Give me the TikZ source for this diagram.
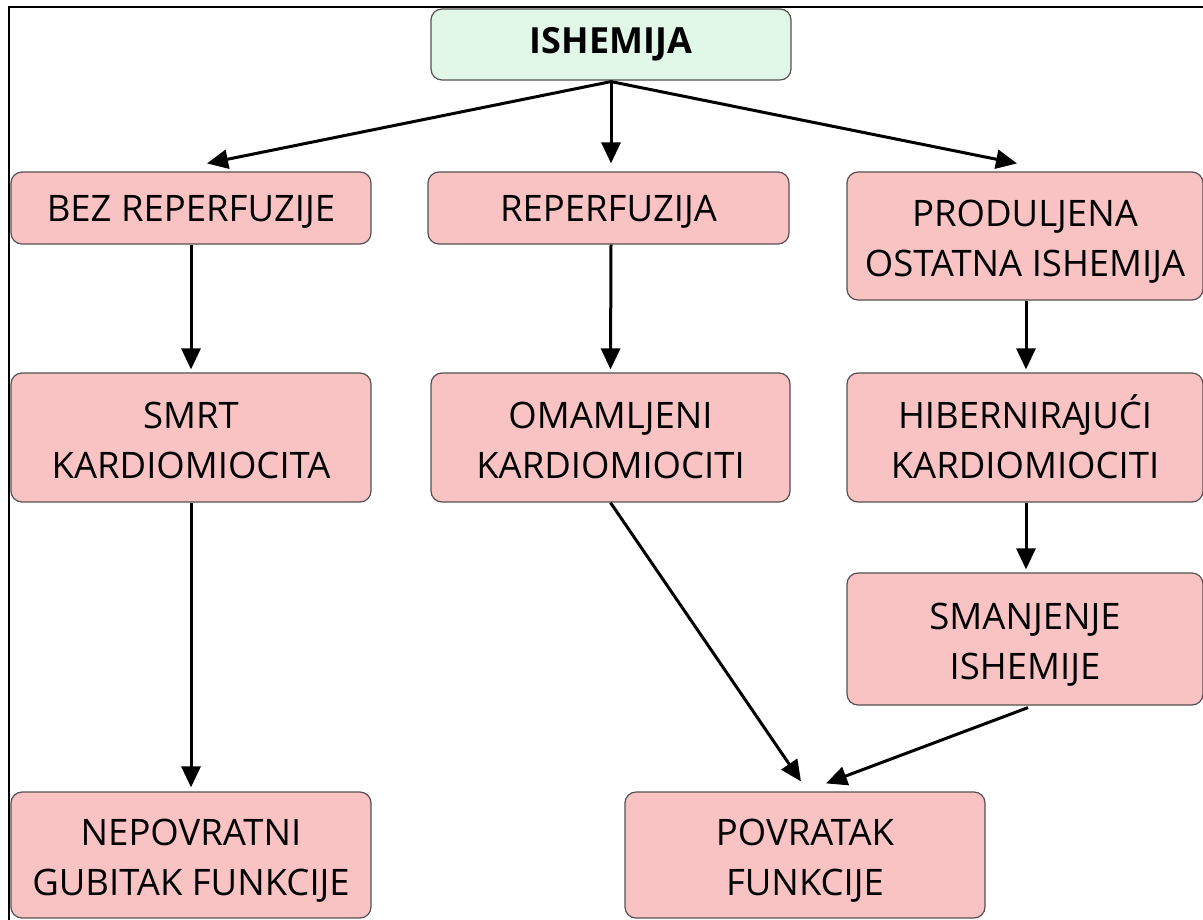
\documentclass[tikz,border=0pt]{standalone}
\usepackage{fontspec}
\setmainfont{Open Sans}
\usetikzlibrary{arrows.meta,calc}
\definecolor{boxpink}{RGB}{249,195,196}
\definecolor{boxgreen}{RGB}{225,247,231}
\definecolor{boxline}{RGB}{85,80,80}
\newcommand\oneln[1]{\rule[-10pt]{0pt}{46pt}#1}
\newcommand\twoln[2]{\rule{0pt}{41.7pt}#1\\#2\rule[-10pt]{0pt}{10pt}}
\tikzset{
  pinkbox/.style={draw=boxline, line width=1.2pt, fill=boxpink, rounded corners=11pt,
    minimum width=360pt, inner sep=0pt, align=center,
    font=\fontsize{36.5}{50}\selectfont},
  greenbox/.style={draw=boxline, line width=1.2pt, fill=boxgreen, rounded corners=11pt,
    minimum width=360pt, minimum height=71pt, inner sep=0pt, align=center,
    font=\fontsize{36}{44}\selectfont\bfseries},
  arr/.style={line width=3pt, -{Triangle[length=21pt,width=19pt]}}
}
\begin{document}
\begin{tikzpicture}[x=1pt,y=-1pt]
\useasboundingbox (0,0) rectangle (1203,919);
\clip (0,0) rectangle (1203,919);
\draw[line width=2pt] (9,930) -- (9,7) -- (1220,7);

\node[greenbox] (ish) at (611,44.5) {ISHEMIJA};

\node[pinkbox, minimum height=72pt] (bez) at (191,208) {\oneln{BEZ REPERFUZIJE}};
\node[pinkbox, minimum height=72pt, minimum width=361pt] (rep) at (608.5,208) {\oneln{REPERFUZIJA}};
\node[pinkbox, minimum height=128pt, minimum width=356pt] (prod) at (1025,236) {\twoln{PRODULJENA}{OSTATNA ISHEMIJA}};

\node[pinkbox, minimum height=129pt] (smrt) at (191,437.5) {\twoln{SMRT}{KARDIOMIOCITA}};
\node[pinkbox, minimum height=129pt, minimum width=359pt] (omam) at (610.5,437.5) {\twoln{OMAMLJENI}{KARDIOMIOCITI}};
\node[pinkbox, minimum height=129pt, minimum width=356pt] (hib) at (1025,437.5) {\twoln{HIBERNIRA\kern-2.5pt JUĆI}{KARDIOMIOCITI}};

\node[pinkbox, minimum height=132pt, minimum width=356pt] (sman) at (1025,639) {\twoln{SMANJENJE}{ISHEMIJE}};

\node[pinkbox, minimum height=126pt] (nep) at (191,855) {\twoln{NEPOVRATNI}{GUBITAK FUNKCIJE}};
\node[pinkbox, minimum height=126pt] (pov) at (805,855) {\twoln{POVRATAK}{FUNKCIJE}};

\draw[arr] ([yshift=-1pt]ish.south) -- ([xshift=16pt,yshift=8pt]bez.north);
\draw[arr] ([yshift=-1pt]ish.south) -- ([yshift=8pt]ish.south |- rep.north);
\draw[arr] ([yshift=-1pt]ish.south) -- ([xshift=-8pt,yshift=8pt]prod.north);

\draw[arr] (bez.south) -- ([yshift=3pt]smrt.north);
\draw[arr] ([xshift=2.5pt]rep.south) -- ([yshift=3pt]omam.north);
\draw[arr] ([xshift=1pt]prod.south) -- ([xshift=1pt,yshift=3pt]hib.north);

\draw[arr] (smrt.south) -- ([yshift=4pt]nep.north);
\draw[arr] ([xshift=1pt]hib.south) -- ([xshift=1pt,yshift=3pt]sman.north);

\draw[arr] (omam.south) -- ([xshift=-4pt,yshift=10pt]pov.north);
\draw[arr] ([xshift=3pt,yshift=-2pt]sman.south) -- ([xshift=21pt,yshift=8pt]pov.north);
\end{tikzpicture}
\end{document}
